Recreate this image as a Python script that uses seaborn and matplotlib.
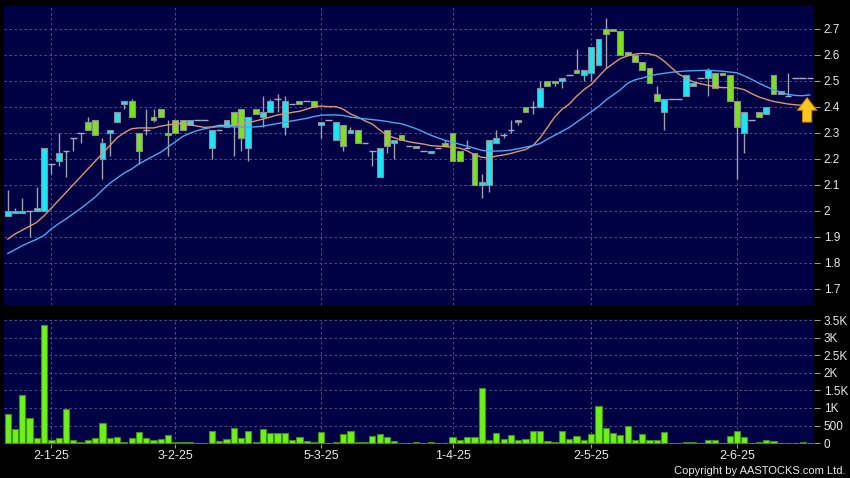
import numpy as np
import matplotlib
matplotlib.use("Agg")
import matplotlib.pyplot as plt
import seaborn as sns

# daily candles (oldest first)
open_p = [
    1.98, 1.99, 1.99, 2.00, 2.00, 2.00, 2.18, 2.19, 2.23, 2.28,
    2.30, 2.34, 2.35, 2.20, 2.30, 2.34, 2.41, 2.42, 2.30, 2.31,
    2.36, 2.39, 2.30, 2.35, 2.35, 2.33, 2.35, 2.35, 2.24, 2.31,
    2.32, 2.38, 2.39, 2.24, 2.39, 2.36, 2.38, 2.43, 2.32, 2.41,
    2.42, 2.42, 2.42, 2.33, 2.35, 2.27, 2.33, 2.30, 2.31, 2.26,
    2.23, 2.13, 2.31, 2.26, 2.29, 2.25, 2.25, 2.23, 2.22, 2.24,
    2.26, 2.30, 2.23, 2.24, 2.22, 2.10, 2.10, 2.26, 2.29, 2.31,
    2.34, 2.40, 2.40, 2.40, 2.50, 2.50, 2.50, 2.52, 2.54, 2.52,
    2.53, 2.56, 2.70, 2.70, 2.69, 2.61, 2.60, 2.57, 2.55, 2.45,
    2.38, 2.43, 2.43, 2.44, 2.48, 2.51, 2.51, 2.53, 2.53, 2.52,
    2.42, 2.30, 2.35, 2.38, 2.37, 2.52, 2.46, 2.44, 2.51, 2.51,
    2.51,
]
close_p = [
    2.00, 2.00, 2.00, 2.00, 2.01, 2.24, 2.18, 2.22, 2.23, 2.28,
    2.30, 2.31, 2.29, 2.26, 2.31, 2.38, 2.42, 2.36, 2.23, 2.31,
    2.35, 2.36, 2.29, 2.30, 2.31, 2.35, 2.35, 2.35, 2.31, 2.31,
    2.35, 2.33, 2.28, 2.36, 2.37, 2.38, 2.42, 2.43, 2.42, 2.41,
    2.41, 2.42, 2.40, 2.34, 2.35, 2.34, 2.25, 2.31, 2.26, 2.26,
    2.23, 2.24, 2.25, 2.27, 2.27, 2.25, 2.24, 2.23, 2.23, 2.24,
    2.25, 2.19, 2.19, 2.24, 2.10, 2.11, 2.27, 2.28, 2.29, 2.31,
    2.35, 2.38, 2.40, 2.47, 2.48, 2.49, 2.51, 2.52, 2.53, 2.54,
    2.63, 2.66, 2.68, 2.69, 2.60, 2.60, 2.57, 2.54, 2.49, 2.42,
    2.43, 2.43, 2.43, 2.52, 2.49, 2.51, 2.54, 2.47, 2.52, 2.42,
    2.32, 2.38, 2.35, 2.36, 2.40, 2.45, 2.45, 2.44, 2.51, 2.51,
    2.51,
]
high_p = [
    2.08, 2.01, 2.05, 2.00, 2.09, 2.24, 2.18, 2.30, 2.23, 2.28,
    2.30, 2.36, 2.35, 2.28, 2.31, 2.38, 2.42, 2.43, 2.30, 2.39,
    2.39, 2.39, 2.35, 2.35, 2.35, 2.35, 2.35, 2.35, 2.31, 2.31,
    2.35, 2.38, 2.39, 2.36, 2.39, 2.44, 2.43, 2.45, 2.44, 2.41,
    2.42, 2.42, 2.42, 2.34, 2.35, 2.34, 2.33, 2.32, 2.31, 2.26,
    2.23, 2.24, 2.31, 2.27, 2.29, 2.25, 2.25, 2.23, 2.23, 2.24,
    2.27, 2.30, 2.23, 2.27, 2.22, 2.14, 2.27, 2.31, 2.30, 2.35,
    2.35, 2.40, 2.42, 2.50, 2.50, 2.50, 2.51, 2.52, 2.62, 2.54,
    2.63, 2.66, 2.74, 2.70, 2.69, 2.61, 2.60, 2.57, 2.55, 2.48,
    2.43, 2.43, 2.43, 2.52, 2.49, 2.51, 2.55, 2.53, 2.53, 2.52,
    2.42, 2.38, 2.35, 2.38, 2.40, 2.52, 2.46, 2.53, 2.51, 2.51,
    2.51,
]
low_p = [
    1.98, 1.99, 1.99, 1.90, 2.00, 2.00, 2.14, 2.17, 2.13, 2.23,
    2.26, 2.31, 2.29, 2.12, 2.21, 2.34, 2.39, 2.36, 2.18, 2.29,
    2.34, 2.36, 2.21, 2.30, 2.31, 2.33, 2.35, 2.35, 2.20, 2.31,
    2.32, 2.21, 2.23, 2.19, 2.37, 2.32, 2.38, 2.38, 2.29, 2.41,
    2.41, 2.42, 2.40, 2.28, 2.35, 2.27, 2.23, 2.30, 2.26, 2.26,
    2.17, 2.13, 2.22, 2.20, 2.27, 2.25, 2.24, 2.23, 2.22, 2.24,
    2.25, 2.19, 2.19, 2.24, 2.10, 2.05, 2.07, 2.26, 2.28, 2.30,
    2.33, 2.38, 2.37, 2.40, 2.48, 2.48, 2.47, 2.52, 2.53, 2.50,
    2.50, 2.56, 2.55, 2.69, 2.60, 2.60, 2.57, 2.54, 2.49, 2.42,
    2.31, 2.43, 2.43, 2.44, 2.48, 2.51, 2.44, 2.47, 2.52, 2.42,
    2.12, 2.22, 2.35, 2.36, 2.37, 2.45, 2.45, 2.44, 2.51, 2.51,
    2.51,
]
volume = [
    814, 394, 1380, 700, 137, 3357, 100, 137, 966, 90,
    43, 100, 137, 570, 155, 165, 30, 155, 320, 137,
    100, 118, 243, 20, 20, 20, 5, 0, 346, 70,
    110, 423, 146, 337, 30, 408, 275, 275, 290, 85,
    165, 50, 30, 318, 0, 25, 253, 353, 35, 30,
    192, 255, 165, 55, 0, 0, 20, 0, 20, 0,
    0, 175, 85, 170, 170, 1566, 95, 275, 125, 218,
    100, 123, 355, 355, 72, 42, 355, 119, 192, 85,
    246, 1060, 420, 275, 223, 475, 75, 266, 75, 75,
    305, 0, 0, 30, 30, 0, 100, 75, 0, 192,
    346, 160, 0, 25, 100, 70, 0, 0, 0, 20,
    0,
]
# moving average lines as drawn on the chart
ma_short = [
    1.89, 1.91, 1.925, 1.94, 1.955, 1.98, 2.01, 2.04, 2.07, 2.10,
    2.13, 2.16, 2.19, 2.22, 2.25, 2.28, 2.30, 2.315, 2.318, 2.318,
    2.318, 2.325, 2.33, 2.333, 2.336, 2.33, 2.325, 2.32, 2.322, 2.328,
    2.328, 2.327, 2.333, 2.338, 2.345, 2.352, 2.36, 2.368, 2.372, 2.378,
    2.382, 2.39, 2.40, 2.402, 2.40, 2.40, 2.39, 2.372, 2.36, 2.345,
    2.333, 2.31, 2.29, 2.28, 2.272, 2.265, 2.26, 2.256, 2.25, 2.248,
    2.246, 2.244, 2.24, 2.23, 2.215, 2.205, 2.203, 2.21, 2.214, 2.22,
    2.228, 2.235, 2.25, 2.28, 2.32, 2.36, 2.39, 2.41, 2.44, 2.465,
    2.485, 2.515, 2.545, 2.565, 2.585, 2.595, 2.602, 2.605, 2.603, 2.595,
    2.575, 2.55, 2.525, 2.51, 2.495, 2.488, 2.482, 2.477, 2.473, 2.473,
    2.472, 2.465, 2.45, 2.437, 2.428, 2.42, 2.415, 2.41, 2.407, 2.405,
    2.405,
]
ma_long = [
    1.835, 1.85, 1.865, 1.878, 1.89, 1.905, 1.93, 1.95, 1.968, 1.988,
    2.008, 2.03, 2.052, 2.08, 2.105, 2.125, 2.145, 2.16, 2.18, 2.195,
    2.21, 2.225, 2.245, 2.265, 2.285, 2.298, 2.308, 2.315, 2.32, 2.323,
    2.323, 2.322, 2.321, 2.321, 2.322, 2.325, 2.33, 2.335, 2.34, 2.345,
    2.35, 2.355, 2.362, 2.367, 2.368, 2.368, 2.366, 2.36, 2.356, 2.353,
    2.35, 2.347, 2.343, 2.338, 2.334, 2.325, 2.315, 2.303, 2.29, 2.28,
    2.27, 2.263, 2.255, 2.248, 2.24, 2.232, 2.229, 2.229, 2.23, 2.233,
    2.238, 2.244, 2.25, 2.258, 2.275, 2.29, 2.305, 2.32, 2.34, 2.36,
    2.38, 2.40, 2.425, 2.445, 2.465, 2.49, 2.503, 2.51, 2.518, 2.524,
    2.528, 2.532, 2.535, 2.537, 2.538, 2.539, 2.54, 2.538, 2.536, 2.533,
    2.53, 2.518, 2.505, 2.49, 2.477, 2.465, 2.455, 2.447, 2.443, 2.442,
    2.445,
]
tick_idx = [6, 23, 43, 61, 80, 100]
tick_labels = ["2-1-25", "3-2-25", "5-3-25", "1-4-25", "2-5-25", "2-6-25"]
price_ticks = [1.7, 1.8, 1.9, 2.0, 2.1, 2.2, 2.3, 2.4, 2.5, 2.6, 2.7]
price_labels = ["1.7", "1.8", "1.9", "2", "2.1", "2.2", "2.3", "2.4", "2.5", "2.6", "2.7"]
vol_ticks = [0, 500, 1000, 1500, 2000, 2500, 3000, 3500]
vol_labels = ["0", "500", "1K", "1.5K", "2K", "2.5K", "3K", "3.5K"]

NAVY = "#000045"
CYAN = "#20e4f2"
GREEN = "#7be21c"
VOLGREEN = "#6df01c"
TXT = "#e8e8e8"
GRID = "#5c5c90"

sns.set_style("dark", {"axes.facecolor": NAVY, "figure.facecolor": "black"})
plt.rcParams["font.family"] = ["Liberation Sans", "DejaVu Sans"]

o = np.array(open_p)
c = np.array(close_p)
h = np.array(high_p)
l = np.array(low_p)
idx = np.arange(len(o))

fig = plt.figure(figsize=(8.5, 4.78), dpi=100)
fig.patch.set_facecolor("black")
ax = fig.add_axes([4/850, 1-305/478, 810/850, 299/478])
axv = fig.add_axes([4/850, 1-443.5/478, 810/850, 124.5/478])

for a in (ax, axv):
    a.set_facecolor(NAVY)
    for s in a.spines.values():
        s.set_visible(False)
    a.set_axisbelow(True)
    a.grid(True, color=GRID, linestyle=(0, (3, 3)), linewidth=0.6)
    a.yaxis.tick_right()
    a.tick_params(axis="y", colors="#9a9a9a", labelcolor=TXT, length=4,
                  width=0.8, pad=3, labelsize=8.5, direction="out")

# wicks
ax.vlines(idx, l, h, color="#a0a0aa", linewidth=1, zorder=2)

up = c > o
down = c < o
flat = c == o
ax.bar(idx[up], (c - o)[up], bottom=o[up], width=0.8, color=CYAN,
       edgecolor="#8c8c96", linewidth=0.8, zorder=3)
ax.bar(idx[down], (o - c)[down], bottom=c[down], width=0.8, color=GREEN,
       edgecolor="#8c8c96", linewidth=0.8, zorder=3)
ax.hlines(c[flat], idx[flat] - 0.45, idx[flat] + 0.45, color="#a8a8c4",
          linewidth=1, zorder=3)

sns.lineplot(x=idx, y=ma_short, ax=ax, color="#e0956a", linewidth=1, zorder=4)
sns.lineplot(x=idx, y=ma_long, ax=ax, color="#45aaf0", linewidth=1, zorder=4)

# up-signal arrow at the last bar
ax.annotate("", xy=(idx[-1] - 0.4, ma_long[-1]), xytext=(idx[-1] - 0.4, ma_short[-1] - 0.075),
            arrowprops=dict(arrowstyle="simple,head_length=0.75,head_width=1.15,tail_width=0.55",
                            fc="#ffc81e", ec="#c88200", lw=0.8, mutation_scale=12),
            zorder=6)

ax.set_xlim(-0.5, 110.55)
ax.set_ylim(1.637, 2.787)
ax.set_yticks(price_ticks)
ax.set_yticklabels(price_labels)
ax.set_xticks(tick_idx)
ax.tick_params(axis="x", length=0, labelbottom=False)
ax.set_xlabel("")
ax.set_ylabel("")

sns.barplot(x=idx, y=volume, ax=axv, native_scale=True, color=VOLGREEN,
            saturation=1, width=0.86, edgecolor="#3e8f12", linewidth=0.8,
            errorbar=None, zorder=3)
axv.set_xlim(-0.5, 110.55)
axv.set_ylim(-12, 3530)
axv.set_yticks(vol_ticks)
axv.set_yticklabels(vol_labels)
axv.set_xticks(tick_idx)
axv.set_xticklabels(tick_labels)
axv.tick_params(axis="x", colors="#9a9a9a", labelcolor=TXT, length=3,
                width=0.8, pad=1.5, labelsize=9, direction="out", bottom=True)
axv.set_xlabel("")
axv.set_ylabel("")

fig.text(0.995, 0.004, "Copyright by AASTOCKS.com Ltd.", ha="right", va="bottom",
         color=TXT, fontsize=8)

plt.savefig("out.png", dpi=100, facecolor="black")
plt.close()
